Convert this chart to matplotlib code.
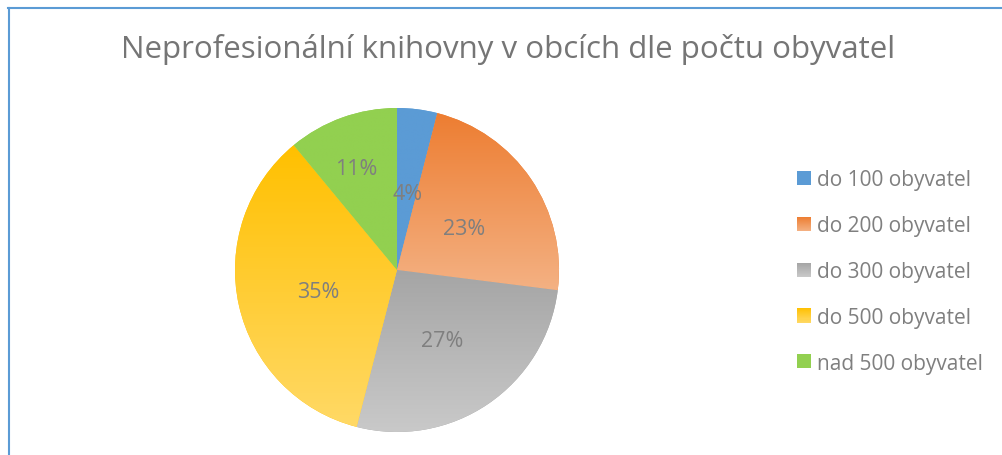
import numpy as np
import matplotlib
matplotlib.use("Agg")
import matplotlib.pyplot as plt
from matplotlib.colors import LinearSegmentedColormap, to_rgb
from matplotlib.patches import Rectangle
from matplotlib.legend_handler import HandlerBase
from matplotlib.lines import Line2D

# ---- data ----
title = "Neprofesionální knihovny v obcích dle počtu obyvatel"
categories = ["do 100 obyvatel", "do 200 obyvatel", "do 300 obyvatel",
              "do 500 obyvatel", "nad 500 obyvatel"]
values = [4, 23, 27, 35, 11]

# ---- style ----
top_colors = ["#5B9BD5", "#ED7D31", "#A5A5A5", "#FFC000", "#92D050"]
bottom_colors = ["#5B9BD5", "#F4B183", "#C9C9C9", "#FFD966", "#92D050"]
text_color = "#7F7F7F"
FONT = "Open Sans"
plt.rcParams["font.family"] = [FONT, "DejaVu Sans"]

W, H = 1003, 456
fig = plt.figure(figsize=(W / 100, H / 100), dpi=100)
fig.patch.set_facecolor("white")

# pie axes: centre at (397, 271) px, radius 162 px
cx, cy, R = 397, 271, 162
half = 170
ax = fig.add_axes([(cx - half) / W, (H - cy - half) / H, 2 * half / W, 2 * half / H])
lim = half / R

wedges, texts, autotexts = ax.pie(
    values, startangle=90, counterclock=False, colors=top_colors,
    autopct="%1.0f%%", pctdistance=0.5,
    wedgeprops=dict(linewidth=0),
    textprops=dict(color=text_color, fontsize=15.5),
)

# gradient fill clipped to each wedge
grad = np.linspace(0, 1, 256)[:, None]
for w, c0, c1 in zip(wedges, top_colors, bottom_colors):
    bb = w.get_path().get_extents()
    cmap = LinearSegmentedColormap.from_list("g", [c0, c1])
    im = ax.imshow(grad, extent=(bb.x0, bb.x1, bb.y0, bb.y1), origin="upper",
                   cmap=cmap, vmin=0, vmax=1, interpolation="bilinear",
                   aspect="auto", zorder=w.get_zorder() + 0.1)
    im.set_clip_path(w)

for t in autotexts:
    t.set_zorder(10)

# best-fit style: the small last slice label sits further out
angles = []
cum = 0
for v in values:
    mid = 90 - 360 * (cum + v / 2) / sum(values)
    angles.append(mid)
    cum += v
a = np.deg2rad(angles[-1])
autotexts[-1].set_position((0.69 * np.cos(a) - 3 / R, 0.69 * np.sin(a)))
dy = 4 / R
for t in autotexts:
    x, y = t.get_position()
    t.set_position((x, y - dy))

ax.set_xlim(-lim, lim)
ax.set_ylim(-lim, lim)
ax.set_aspect("equal")
ax.axis("off")

# title
fig.text(508.5 / W, (H - 58) / H, title, ha="center", va="baseline",
         fontsize=22.5, color="#757575")


# legend with gradient squares
class GradHandler(HandlerBase):
    def __init__(self, c0, c1, n=14):
        super().__init__()
        self.c0 = np.array(to_rgb(c0))
        self.c1 = np.array(to_rgb(c1))
        self.n = n

    def create_artists(self, legend, orig_handle, xdescent, ydescent,
                       width, height, fontsize, trans):
        arts = []
        for i in range(self.n):
            f = (i + 0.5) / self.n
            c = self.c0 * (1 - f) + self.c1 * f
            y = -ydescent + height * (1 - (i + 1) / self.n)
            r = Rectangle((-xdescent, y), width, height / self.n + 0.02,
                          facecolor=c, edgecolor="none", lw=0, transform=trans)
            arts.append(r)
        return arts


handles = [Rectangle((0, 0), 1, 1) for _ in categories]
hmap = {h: GradHandler(c0, c1) for h, c0, c1 in zip(handles, top_colors, bottom_colors)}
leg_fs = 15
leg = fig.legend(handles, categories, handler_map=hmap,
                 loc="center left", bbox_to_anchor=(797 / W, (H - 272.5) / H),
                 frameon=False, borderpad=0, borderaxespad=0,
                 handlelength=0.67, handleheight=0.67, handletextpad=0.27,
                 labelspacing=1.19, fontsize=leg_fs, labelcolor=text_color)

# chart border (top and left visible)
fig.add_artist(Line2D([8 / W, 1], [(H - 9) / H, (H - 9) / H], color="#5B9BD5",
                      lw=1.5, transform=fig.transFigure))
fig.add_artist(Line2D([9 / W, 9 / W], [0, (H - 9) / H], color="#5B9BD5",
                      lw=1.5, transform=fig.transFigure))

fig.savefig("out.png", dpi=100, facecolor="white")
